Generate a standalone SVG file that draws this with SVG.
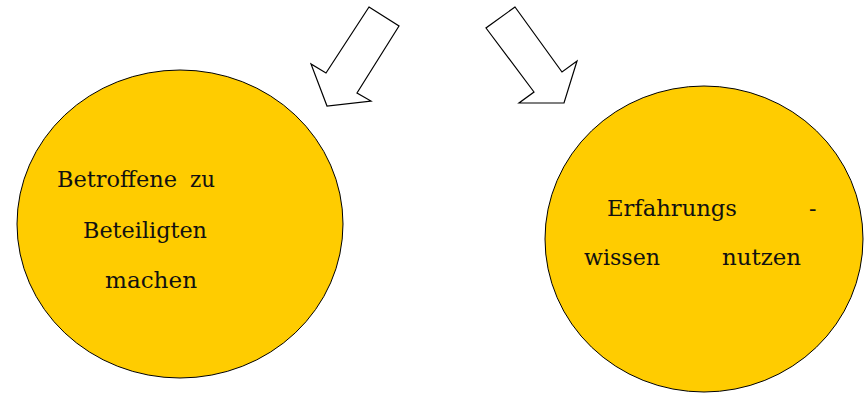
<svg xmlns="http://www.w3.org/2000/svg" width="864" height="394" viewBox="0 0 864 394">
  <style>
    .bubble { fill: #FFCC00; stroke: #000000; stroke-width: 1; }
    .block-arrow { fill: #FFFFFF; stroke: #000000; stroke-width: 1.2; stroke-linejoin: miter; }
    .label { font-family: "DejaVu Serif", "Liberation Serif", serif; font-size: 22px; fill: #111111; }
  </style>
  <rect width="864" height="394" fill="#FFFFFF"/>

  <g id="node-betroffene">
    <ellipse class="bubble" cx="180" cy="224" rx="163" ry="154"/>
    <text class="label" x="57" y="187" textLength="120" lengthAdjust="spacingAndGlyphs">Betroffene</text>
    <text class="label" x="190" y="187" textLength="25" lengthAdjust="spacingAndGlyphs">zu</text>
    <text class="label" x="83" y="238" textLength="124" lengthAdjust="spacingAndGlyphs">Beteiligten</text>
    <text class="label" x="105" y="288" textLength="92" lengthAdjust="spacingAndGlyphs">machen</text>
  </g>

  <g id="node-erfahrungswissen">
    <ellipse class="bubble" cx="704" cy="239" rx="159" ry="153"/>
    <text class="label" x="607" y="216" textLength="130" lengthAdjust="spacingAndGlyphs">Erfahrungs</text>
    <text class="label" x="809" y="216">-</text>
    <text class="label" x="584" y="265" textLength="76" lengthAdjust="spacingAndGlyphs">wissen</text>
    <text class="label" x="722" y="265" textLength="79" lengthAdjust="spacingAndGlyphs">nutzen</text>
  </g>

  <g id="connectors">
    <polygon class="block-arrow" points="369,7 399,26 357,93 371,101 327,106 311,64 326,73"/>
    <polygon class="block-arrow" points="515,7 486,28 534,92 519,103 564,103 577,61 562,72"/>
  </g>
</svg>
